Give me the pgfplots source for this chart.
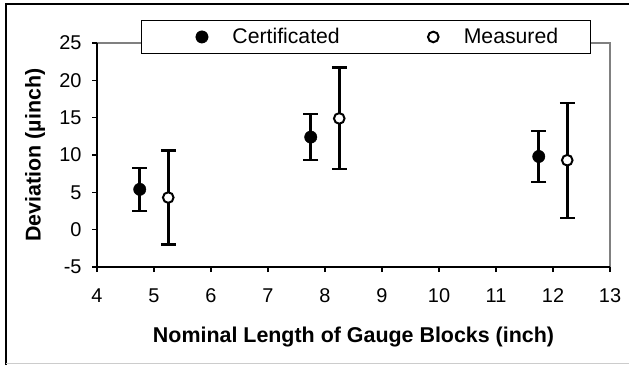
\documentclass[border=0pt]{standalone}
\usepackage{pgfplots}
\pgfplotsset{compat=1.18}
\usepackage{fontspec}
\setmainfont{Liberation Sans}
\pgfplotstableread{
x y e
4.75 5.4 2.9
7.75 12.4 3.1
11.75 9.8 3.4
}\cert
\pgfplotstableread{
x y e
5.25 4.3 6.3
8.25 14.9 6.8
12.25 9.3 7.7
}\meas
\pgfplotsset{
  legA/.style={legend image code/.code={\path (-28bp,0) (30bp,0); \draw[##1] plot coordinates {(0bp,0bp)};}},
  legB/.style={legend image code/.code={\path (-93bp,0) (30bp,0); \draw[##1] plot coordinates {(0bp,0bp)};}},
}
\begin{document}
\begin{tikzpicture}[x=1bp,y=1bp]
\path[use as bounding box] (0,0) rectangle (629,365);
\draw[black, line width=1.3bp] (6,0) -- (6,361) -- (629,361);
\draw[gray!40, line width=1bp] (6,2) -- (629,2);
\draw[gray, line width=1.5bp] (97,322) -- (610,322) -- (610,98);
\draw[black, line width=1.7bp] (97,322) -- (97,98) -- (610,98);
\begin{axis}[
  at={(97bp,98bp)}, anchor=south west,
  width=513bp, height=224bp, scale only axis,
  xmin=4, xmax=13, ymin=-5, ymax=25,
  xtick={4,...,13}, ytick={-5,0,...,25},
  axis line style={draw=none},
  tick align=outside, major tick length=5bp,
  xtick pos=bottom, ytick pos=left,
  tick style={black, line width=1.5bp},
  /pgf/number format/assume math mode=true,
  ticklabel style={font=\fontsize{20}{22}\selectfont},
  xticklabel style={yshift=-13bp},
  yticklabel style={xshift=-7bp},
  xlabel={\textbf{Nominal Length of Gauge Blocks (inch)}},
  ylabel={\textbf{Deviation (µinch)}},
  label style={font=\fontsize{21.5}{23}\selectfont},
  xlabel style={at={(axis description cs:0.5,-0.335)}, anchor=base},
  ylabel style={at={(axis description cs:-0.1209,0.5)}, anchor=center, rotate=0},
  legend columns=2,
  legend style={at={(axis description cs:0.524,1.027)}, anchor=center,
    draw=black, line width=1bp, fill=white, inner xsep=32bp, inner ysep=8.5bp,
    nodes={inner sep=0pt, font=\fontsize{21.3}{23}\selectfont},
    column sep=0pt},
  clip=false,
]
\addplot[only marks, mark=*, mark size=6.2bp, black, mark options={line width=0.4bp}, legA,
  error bars/.cd, y dir=both, y explicit,
  error bar style={line width=3bp}, error mark options={rotate=90, line width=2.3bp, mark size=7.5bp}]
  table[x=x, y=y, y error=e] {\cert};
\addlegendentry{Certificated}
\addplot[only marks, mark=*, mark size=5.3bp, black, mark options={fill=white, line width=2bp}, legB,
  error bars/.cd, y dir=both, y explicit,
  error bar style={line width=3bp}, error mark options={rotate=90, line width=2.3bp, mark size=7.5bp}]
  table[x=x, y=y, y error=e] {\meas};
\addlegendentry{Measured}
\end{axis}
\end{tikzpicture}
\end{document}
